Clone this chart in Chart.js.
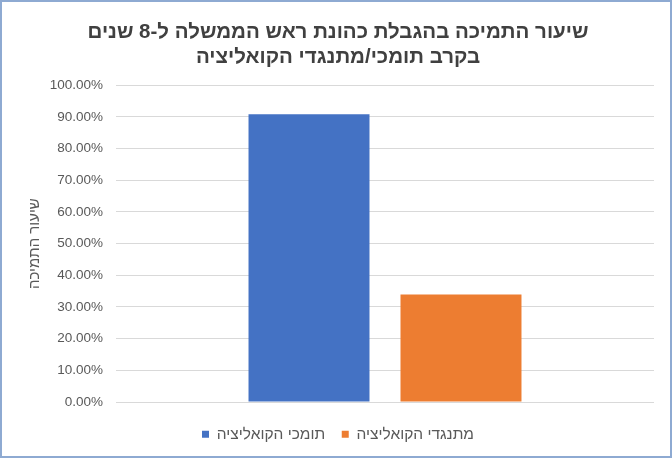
<!DOCTYPE html>
<html lang="he">
<head>
<meta charset="utf-8">
<script src="https://cdn.jsdelivr.net/npm/chart.js@4.4.0/dist/chart.umd.min.js"></script>
<style>
  html, body { margin: 0; padding: 0; background: #fff; }
  #wrap {
    box-sizing: border-box;
    width: 672px;
    height: 458px;
    border: 2px solid #8eaad2;
    background: #fff;
  }
  #wrap canvas { display: block; }
</style>
</head>
<body>
<div id="wrap"><canvas id="graficoTmicha" width="668" height="454"></canvas></div>
<script>
// נתונים
const kategoriot = [''];
const tomchim = [0.908];
const mitnagdim = [0.339];
const tituli = ['שיעור התמיכה בהגבלת כהונת ראש הממשלה ל-8 שנים', 'בקרב תומכי/מתנגדי הקואליציה'];
const shemotSidrot = ['תומכי הקואליציה', 'מתנגדי הקואליציה'];

Chart.defaults.font.family = '"Liberation Sans", Arial, sans-serif';
Chart.defaults.color = '#595959';

const ctxTmicha = document.getElementById('graficoTmicha').getContext('2d');
const graficoTmicha = new Chart(ctxTmicha, {
    type: 'bar',
    data: {
        labels: kategoriot,
        datasets: [{
            label: shemotSidrot[0],
            data: tomchim,
            backgroundColor: '#4472c4'
        }, {
            label: shemotSidrot[1],
            data: mitnagdim,
            backgroundColor: '#ed7d31'
        }]
    },
    options: {
        responsive: false,
        animation: false,
        categoryPercentage: 0.565,
        barPercentage: 0.796,
        layout: {
            padding: { left: 20, right: 16, bottom: 4 }
        },
        scales: {
            x: {
                ticks: { display: false },
                grid: { display: false },
                border: { display: false }
            },
            y: {
                min: 0,
                max: 1,
                afterFit: function (scale) { scale.width = 94; },
                ticks: {
                    stepSize: 0.1,
                    padding: 13,
                    font: { size: 13.5 },
                    color: '#595959',
                    callback: function (v) { return (v * 100).toFixed(2) + '%'; }
                },
                grid: { color: '#d9d9d9', drawTicks: false },
                border: { display: false },
                title: {
                    display: true,
                    text: 'שיעור התמיכה',
                    font: { size: 15 },
                    color: '#595959',
                    padding: { top: 4, bottom: 4 }
                }
            }
        },
        plugins: {
            title: {
                display: true,
                text: tituli,
                color: '#404040',
                font: { size: 20.5, weight: 'bold', lineHeight: 1.2 },
                padding: { top: 18, bottom: 16 }
            },
            legend: {
                position: 'bottom',
                labels: {
                    boxWidth: 7,
                    boxHeight: 7,
                    font: { size: 15.5 },
                    color: '#595959',
                    padding: 16.5
                }
            },
            tooltip: { enabled: false }
        }
    }
});
</script>
</body>
</html>
